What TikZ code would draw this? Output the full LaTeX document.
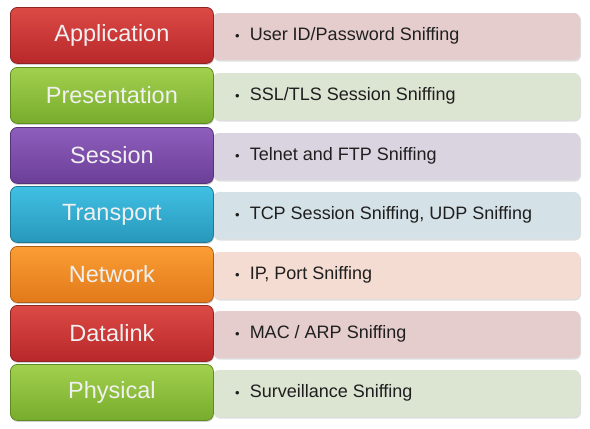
\documentclass[tikz,border=0pt]{standalone}
\usepackage{fontspec}
\setmainfont{Liberation Sans}
\usetikzlibrary{shadows}
\definecolor{rT}{HTML}{DC4A45}\definecolor{rB}{HTML}{B8282A}\definecolor{rD}{HTML}{8E2422}\definecolor{rL}{HTML}{E6CDCD}
\definecolor{gT}{HTML}{A2D04E}\definecolor{gB}{HTML}{78AC2C}\definecolor{gD}{HTML}{5E8A22}\definecolor{gL}{HTML}{DCE4D2}
\definecolor{pT}{HTML}{8E5EBC}\definecolor{pB}{HTML}{6B3F98}\definecolor{pD}{HTML}{553279}\definecolor{pL}{HTML}{DAD4E0}
\definecolor{cT}{HTML}{40C0E4}\definecolor{cB}{HTML}{2898BA}\definecolor{cD}{HTML}{1F7894}\definecolor{cL}{HTML}{D4E2E8}
\definecolor{oT}{HTML}{FA9E34}\definecolor{oB}{HTML}{E2791A}\definecolor{oD}{HTML}{B25E12}\definecolor{oL}{HTML}{F4DCD2}
\tikzset{
  layer/.style={rounded corners=7pt, minimum width=203pt, minimum height=56pt, inner sep=0pt,
    text=white!94!black, font=\fontsize{23.5}{26}\selectfont, line width=0.8pt, anchor=north west,
    drop shadow={shadow xshift=0.5pt, shadow yshift=-1.5pt, opacity=0.35}},
  detail/.style={rounded corners=6pt, minimum width=367pt, minimum height=47pt, inner sep=0pt,
    anchor=north west, line width=0pt,
    drop shadow={shadow xshift=1pt, shadow yshift=-1.5pt, opacity=0.25}},
  itemtext/.style={anchor=west, font=\fontsize{18}{21}\selectfont, text=black!88, inner sep=0pt}
}
\newcommand{\osirow}[6]{% name, top y, label, colour prefix, text
  \node[detail, fill=#4L] (#1d) at (213pt,-#2pt-6pt) {};
  \node[itemtext] (#1t) at ([xshift=22pt,yshift=1pt]#1d.west) {{\fontsize{13}{15}\selectfont\textbullet}\ \ #5};
  \node[layer, top color=#4T, bottom color=#4B, draw=#4D] (#1) at (10pt,-#2pt) {#3};
}
\begin{document}
\begin{tikzpicture}
\useasboundingbox (0,0) rectangle (590pt,-429pt);
\fill[white] (0,0) rectangle (590pt,-429pt);
\osirow{app}{7}{Application}{r}{User ID/Password Sniffing}{}
\osirow{pre}{67}{Presentation}{g}{SSL/TLS Session Sniffing}{}
\osirow{ses}{127}{Session}{p}{Telnet and FTP Sniffing}{}
\osirow{tra}{186}{Transport}{c}{TCP Session Sniffing, UDP Sniffing}{}
\osirow{net}{246}{Network}{o}{IP, Port Sniffing}{}
\osirow{dat}{305}{Datalink}{r}{MAC / ARP Sniffing}{}
\osirow{phy}{364}{Physical}{g}{Surveillance Sniffing}{}
\end{tikzpicture}
\end{document}
